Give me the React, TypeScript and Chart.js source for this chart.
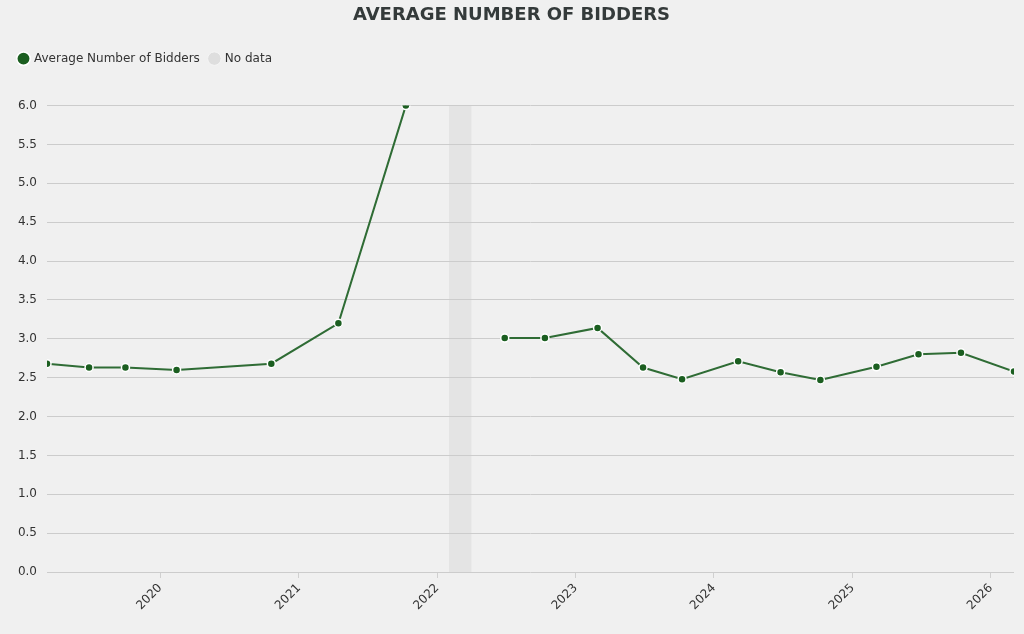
import React, { useEffect, useRef } from "react";
import { Chart, registerables } from "chart.js";

Chart.register(...registerables);

// Observation dates and the average number of bidders at each
const bidDates = [
  "2019-03-08", "2019-06-27", "2019-10-01", "2020-02-13", "2020-10-20",
  "2021-04-15", "2021-10-10", "2022-06-28", "2022-10-12", "2023-02-28",
  "2023-06-28", "2023-10-09", "2024-03-05", "2024-06-25", "2024-10-08",
  "2025-03-05", "2025-06-24", "2025-10-14", "2026-03-03",
];
const avgBidders = [
  2.68, 2.63, 2.63, 2.6, 2.68,
  3.2, 6.0, 3.01, 3.01, 3.14,
  2.63, 2.48, 2.71, 2.57, 2.47,
  2.64, 2.8, 2.82, 2.58,
];
const noDataStart = "2022-02-01";
const noDataEnd = "2022-04-01";
const yearTicks = [2020, 2021, 2022, 2023, 2024, 2025, 2026];
const seriesLabel = "Average Number of Bidders";
const noDataLabel = "No data";
const chartTitle = "AVERAGE NUMBER OF BIDDERS";

const toMs = (d: string) => Date.parse(d + "T00:00:00Z");
const FONT = "'DejaVu Sans', sans-serif";

export default function App() {
  const ref = useRef<HTMLCanvasElement>(null);

  useEffect(() => {
    document.body.style.margin = "0";
    document.body.style.background = "#f0f0f0";
    const gapStart = toMs(noDataStart);
    const gapEnd = toMs(noDataEnd);
    const pts: { x: number; y: number | null }[] = [];
    bidDates.forEach((d, i) => {
      const x = toMs(d);
      if (pts.length && (pts[pts.length - 1].x as number) < gapStart && x > gapEnd) {
        pts.push({ x: gapStart, y: null });
      }
      pts.push({ x, y: avgBidders[i] });
    });
    const xs = bidDates.map(toMs);

    const bandPlugin = {
      id: "noDataBand",
      beforeDraw(chart: any) {
        const { ctx, chartArea, scales } = chart;
        const x0 = scales.x.getPixelForValue(gapStart);
        const x1 = scales.x.getPixelForValue(gapEnd);
        ctx.save();
        ctx.fillStyle = "#e4e4e4";
        ctx.fillRect(x0, chartArea.top, x1 - x0, chartArea.bottom - chartArea.top);
        ctx.restore();
      },
    };

    const chart = new Chart(ref.current as HTMLCanvasElement, {
      type: "line",
      data: {
        datasets: [
          {
            label: seriesLabel,
            data: pts as any,
            borderColor: "#2f6c35",
            borderWidth: 2,
            pointRadius: 4,
            pointBackgroundColor: "#1b5e20",
            pointBorderColor: "#ffffff",
            pointBorderWidth: 1.5,
            spanGaps: false,
            tension: 0,
          },
          {
            label: noDataLabel,
            data: [],
            borderColor: "#dddddd",
            pointBackgroundColor: "#dedede",
            pointBorderColor: "#f4f4f4",
            pointBorderWidth: 1,
          },
        ],
      },
      options: {
        animation: false,
        responsive: false,
        maintainAspectRatio: false,
        layout: { padding: { left: 9, right: 10, top: 0, bottom: 0 } },
        plugins: {
          title: {
            display: true,
            text: chartTitle,
            color: "#343a3a",
            font: { family: FONT, size: 18, weight: "bold", lineHeight: 1.2 },
            padding: { top: 5, bottom: 16 },
          },
          subtitle: {
            display: true,
            text: "",
            weight: 500,
            font: { size: 1, lineHeight: 1 },
            padding: { top: 30, bottom: 0 },
          } as any,
          legend: {
            position: "top",
            align: "start",
            labels: {
              usePointStyle: true,
              pointStyle: "circle",
              boxWidth: 9,
              boxHeight: 9.5,
              padding: 10,
              color: "#333333",
              font: { family: FONT, size: 12 },
            },
          },
          tooltip: { enabled: false },
        },
        scales: {
          x: {
            type: "linear",
            min: xs[0],
            max: xs[xs.length - 1],
            afterBuildTicks: (s: any) => {
              s.ticks = yearTicks.map((y) => ({ value: Date.UTC(y, 0, 1) }));
            },
            afterFit: (s: any) => {
              s.height = 62;
            },
            grid: {
              display: true,
              drawOnChartArea: false,
              drawTicks: true,
              tickLength: 6,
              color: "#d0d0d0",
            },
            border: { display: false },
            ticks: {
              autoSkip: false,
              minRotation: 45,
              maxRotation: 45,
              padding: 3,
              color: "#333333",
              font: { family: FONT, size: 12 },
              callback: (v: any) => String(new Date(Number(v)).getUTCFullYear()),
            },
          },
          y: {
            min: 0,
            max: 6,
            afterFit: (s: any) => {
              s.width = 38;
            },
            grid: { color: "#cccccc", drawTicks: false, lineWidth: 1 },
            border: { display: false },
            ticks: {
              stepSize: 0.5,
              padding: 10,
              color: "#333333",
              font: { family: FONT, size: 12 },
              callback: (v: any) => Number(v).toFixed(1),
            },
          },
        },
      },
      plugins: [bandPlugin],
    } as any);
    return () => chart.destroy();
  }, []);

  return (
    <div style={{ width: 1024, height: 634, background: "#f0f0f0" }}>
      <canvas ref={ref} width={1024} height={634} style={{ display: "block" }} />
    </div>
  );
}
